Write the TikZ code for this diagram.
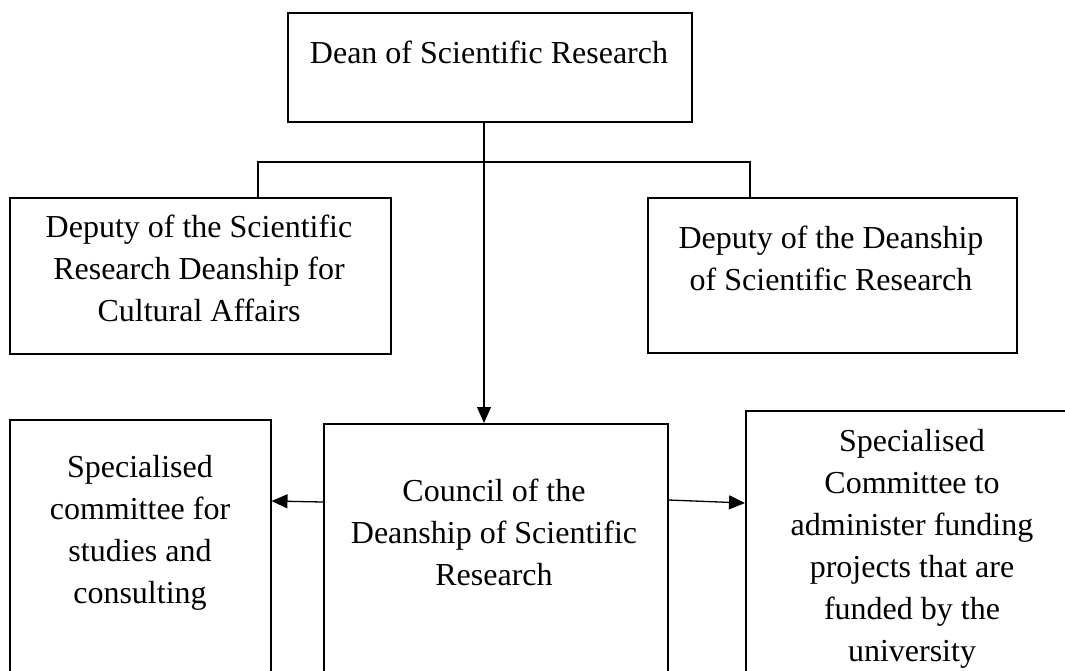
\documentclass[tikz,border=0pt]{standalone}
\usepackage{fontspec}
\setmainfont{Liberation Serif}
\usetikzlibrary{arrows.meta}
\begin{document}
\begin{tikzpicture}[x=1pt,y=-1pt,
  box/.style={draw, line width=1.5pt, rectangle, inner sep=0pt, anchor=north west},
  lbl/.style={align=center, inner sep=0pt, anchor=base, font=\fontsize{32}{42}\selectfont},
  conn/.style={line width=1.3pt},
  arr/.style={conn, -{Triangle[length=16pt,width=14pt]}}]
\useasboundingbox (0,0) rectangle (1065,670);
\clip (0,0) rectangle (1065,670);
\fill[white] (0,0) rectangle (1065,670);
% boxes
\node[box, minimum width=404pt, minimum height=109pt] (dean) at (287,12) {};
\node[box, minimum width=381pt, minimum height=156pt] (depL) at (9,197) {};
\node[box, minimum width=369pt, minimum height=155pt] (depR) at (647,197) {};
\node[box, minimum width=261pt, minimum height=300pt] (comL) at (9,419) {};
\node[box, minimum width=344pt, minimum height=300pt] (council) at (323,423) {};
\node[box, minimum width=400pt, minimum height=300pt] (comR) at (745,410) {};
% texts (anchor base = baseline of last line)
\node[lbl] (tdean) at (489,63) {Dean of Scientific Research};
\node[lbl] (tdepL) at (199,321) {Deputy of the Scientific\\Research Deanship for\\Cultural Affairs};
\node[lbl] (tdepR) at (831,290) {Deputy of the Deanship\\of Scientific Research};
\node[lbl] (tcomL) at (140,603) {Specialised\\committee for\\studies and\\consulting};
\node[lbl] (tcouncil) at (494,585) {Council of the\\Deanship of Scientific\\Research};
\node[lbl] (tcomR) at (912,661) {Specialised\\Committee to\\administer funding\\projects that are\\funded by the\\university};
% connectors
\coordinate (jc) at (484,162);
\coordinate (jl) at (258,162);
\coordinate (jr) at (750,162);
\draw[arr] (dean.south -| jc) -- (council.north -| jc);
\draw[conn] (depL.north -| jl) -- (jl) -- (jr) -- (depR.north -| jr);
\draw[arr] (council.west |- 0,502) -- (comL.east |- 0,501);
\draw[arr] (council.east |- 0,500) -- (comR.west |- 0,503);
\end{tikzpicture}
\end{document}
